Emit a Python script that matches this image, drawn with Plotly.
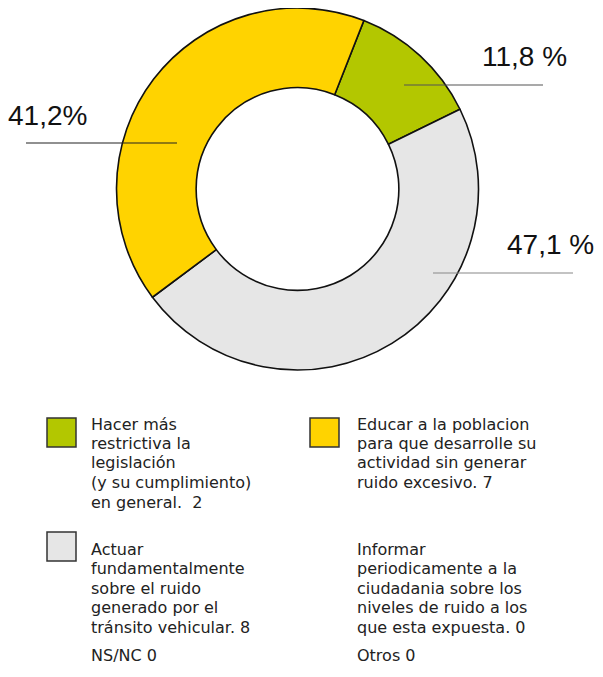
import plotly.graph_objects as go

# la ventana es 603x677 y el body tiene 8px de margen
OFF = 8
W, H = 603 - 2 * OFF, 677 - 2 * OFF

# datos
etiquetas = ["Hacer más restrictiva la legislación", "Actuar sobre el tránsito", "Educar a la poblacion"]
valores = [2, 8, 7]
colores = ["#B3C700", "#E6E6E6", "#FFD300"]
porcentajes = ["11,8 %", "47,1 %", "41,2%"]

leyenda_textos = [
    ["Hacer más", "restrictiva la", "legislación", "(y su cumplimiento)", "en general.  2"],
    ["Educar a la poblacion", "para que desarrolle su", "actividad sin generar", "ruido excesivo. 7"],
    ["Actuar", "fundamentalmente", "sobre el ruido", "generado por el", "tránsito vehicular. 8"],
    ["Informar", "periodicamente a la", "ciudadania sobre los", "niveles de ruido a los", "que esta expuesta. 0"],
    ["NS/NC 0"],
    ["Otros 0"],
]


# coordenadas de la captura -> papel
def px(x):
    return (x - OFF) / W


def py(y):
    return 1 - (y - OFF) / H


fig = go.Figure()

# donut
cx, cy, r = 297.5, 189, 181
fig.add_trace(go.Pie(
    labels=etiquetas, values=valores, sort=False, direction="clockwise",
    rotation=21.5, hole=0.56, textinfo="none", hoverinfo="label+value+percent",
    marker=dict(colors=colores, line=dict(color="#111111", width=1.6)),
    domain=dict(x=[px(cx - r), px(cx + r)], y=[py(cy + r), py(cy - r)]),
    showlegend=False,
))

# lineas guia y porcentajes
guias = [(404, 543, 85, "#555555"), (433, 573, 273, "#888888"), (26, 177, 143, "#222222")]
pos_txt = [(524, 56), (550, 245), (47, 115)]
for (x0, x1, y, c), (tx, ty), t in zip(guias, pos_txt, porcentajes):
    fig.add_shape(type="line", xref="paper", yref="paper",
                  x0=px(x0), x1=px(x1), y0=py(y), y1=py(y),
                  line=dict(color=c, width=1.2))
    fig.add_annotation(x=px(tx), y=py(ty), xref="paper", yref="paper",
                       text=t, showarrow=False, xanchor="center", yanchor="middle",
                       font=dict(family="Liberation Sans, Arial", size=28, color="#111111"))

# leyenda
cuadros = [(47, 418, colores[0]), (310, 418, colores[2]), (47, 532, colores[1])]
for x, y, c in cuadros:
    fig.add_shape(type="rect", xref="paper", yref="paper",
                  x0=px(x), x1=px(x + 29), y0=py(y), y1=py(y + 29),
                  fillcolor=c, line=dict(color="#333333", width=1.5))

pos_ley = [(91, 424), (357, 424), (91, 549), (357, 549), (91, 655), (357, 655)]
for (x, y), lineas in zip(pos_ley, leyenda_textos):
    for i, t in enumerate(lineas):
        fig.add_annotation(x=px(x), y=py(y + 19.5 * i), xref="paper", yref="paper",
                           text=t, showarrow=False, xanchor="left", yanchor="middle",
                           xshift=-2, font=dict(family="DejaVu Sans", size=16, color="#222222"))

fig.update_layout(width=W, height=H, margin=dict(l=0, r=0, t=0, b=0),
                  paper_bgcolor="white", plot_bgcolor="white")

fig.write_html("out.html")
